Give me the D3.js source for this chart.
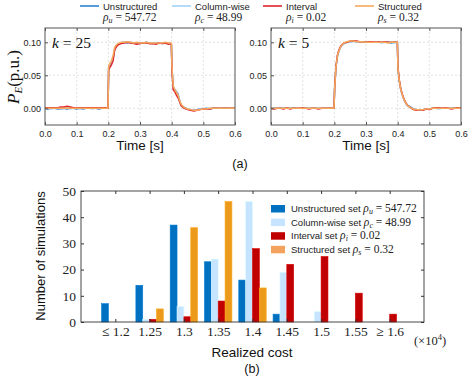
<!DOCTYPE html>
<html>
<head>
<meta charset="utf-8">
<script src="https://cdn.jsdelivr.net/npm/d3@7"></script>
<style>
  body { margin: 0; background: #fff; }
  svg { display: block; }
  .sans { font-family: "Liberation Sans", Arial, sans-serif; }
  .serif { font-family: "Liberation Serif", "DejaVu Serif", serif; }
</style>
</head>
<body>
<div id="chart"></div>
<script>
// ---- (a) time series, time in ms, power in 1e-3 p.u. ----
const timeMs = [0,10,20,30,40,50,60,70,80,90,100,110,120,130,140,150,160,170,180,190,
  199,201,205,210,215,220,225,230,
  240,250,260,270,280,290,300,310,320,330,340,350,360,370,380,390,
  399,401,405,410,415,420,425,430,
  440,450,460,470,480,490,500,510,520,530,540,550,560,570,580,590,600];

const k25Unstructured = [0,-1,0,0,-1,-1,0,-1,0,0,-1,0,-1,0,0,0,0,-1,0,0,
  0,62,66,70,76,90,95,97,
  99,100,99,100,99,98,99,99,100,99,98,99,99,98,99,98,
  97,60,32,28,25,22,12,5,
  1,-1,-2,-3,-2,-1,-1,0,-1,0,1,0,0,1,0,0,0];
const k25ColumnWise = [0,0,-1,0,0,-1,0,0,-1,0,0,-1,0,0,0,-1,0,0,0,0,
  0,60,65,69,75,89,94,97,
  99,99,100,99,99,99,98,99,99,98,99,99,98,99,98,99,
  98,58,30,27,24,21,11,4,
  0,-1,-3,-3,-2,-1,0,-1,0,0,0,1,0,0,0,1,0];
const k25Interval = [1,1,1,1,1,2,2,3,2,1,1,1,1,1,1,1,1,1,1,1,
  0,58,62,66,72,88,93,96,
  98,99,100,99,98,97,98,99,99,98,98,97,99,98,99,97,
  98,55,28,25,20,16,10,4,
  0,-2,-3,-4,-3,-2,-1,-1,-1,0,0,0,0,0,0,0,0];
const k25Structured = [0,0,0,0,0,0,0,0,0,0,0,0,0,0,0,0,0,0,0,0,
  0,64,68,72,80,92,96,98,
  100,100,101,100,99,100,99,99,100,99,99,99,99,99,100,99,
  99,62,34,28,24,20,12,6,
  1,-1,-2,-3,-3,-2,-1,-1,0,0,0,0,0,0,0,0,0];

const k5Unstructured = [0,1,0,1,0,0,0,1,0,0,0,0,0,0,0,0,0,0,0,0,
  0,30,62,80,88,93,96,98,
  100,101,102,101,101,101,100,100,101,100,100,100,100,100,99,100,
  100,60,42,28,20,13,9,5,
  2,-1,-2,-3,-2,-1,-1,0,0,0,0,0,0,0,0,0,0];
const k5ColumnWise = [0,0,1,0,0,1,0,0,0,1,0,0,0,0,1,0,0,0,0,0,
  0,28,60,79,87,92,96,98,
  100,101,101,101,100,101,100,100,100,100,100,99,100,100,100,99,
  100,58,40,27,19,12,8,4,
  1,-1,-2,-2,-2,-1,-1,0,0,-1,0,0,0,0,0,0,0];
const k5Interval = [0,-1,0,0,-1,1,-1,0,0,0,1,0,-1,0,0,-1,0,0,0,0,
  0,32,63,81,89,94,97,99,
  100,102,102,102,101,101,100,101,101,100,101,100,101,100,100,100,
  100,62,43,29,21,14,9,5,
  1,-2,-3,-2,-3,-1,-2,0,1,1,0,1,0,-1,0,1,0];
const k5Structured = [0,0,0,0,0,0,0,0,0,0,0,0,0,0,0,0,0,0,0,0,
  0,30,62,80,88,93,97,99,
  101,102,102,101,101,101,100,100,100,100,100,100,100,99,100,100,
  100,60,42,28,20,13,9,5,
  1,-1,-2,-2,-2,-1,-1,0,0,0,0,0,0,0,0,0,0];

const timeTicks = [0, 0.1, 0.2, 0.3, 0.4, 0.5, 0.6];
const powerTicks = [0, 0.05, 0.10];

// ---- (b) histogram ----
const costCategories = ["≤ 1.2", "1.25", "1.3", "1.35", "1.4", "1.45", "1.5", "1.55", "≥ 1.6"];
const countUnstructured = [7, 14, 37, 23, 16, 3, 0, 0, 0];
const countColumnWise   = [0, 1, 6, 24, 46, 19, 4, 0, 0];
const countInterval     = [0, 1, 2, 8, 28, 22, 25, 11, 3];
const countStructured   = [0, 5, 36, 46, 13, 0, 0, 0, 0];
const countTicks = [0, 10, 20, 30, 40, 50];

const setNames = ["Unstructured", "Column-wise", "Interval", "Structured"];
const rhoSub = ["u", "c", "i", "s"];
const rhoVal = ["547.72", "48.99", "0.02", "0.32"];

const lineColors = ["#2f83d4", "#a3d2f6", "#e0262b", "#f8a85c"];
const barColors = ["#0070c0", "#c6e4ff", "#c00000", "#ec9a1c"];
const legendBarColors = ["#0070c0", "#c6e4ff", "#c00000", "#f4a35e"];

const W = 469, H = 380;
const svg = d3.select("#chart").append("svg").attr("width", W).attr("height", H);

// ---------- top legend ----------
const legendX = [80, 172, 263, 355];
setNames.forEach((name, i) => {
  const g = svg.append("g");
  g.append("line").attr("x1", legendX[i]).attr("x2", legendX[i] + 19)
    .attr("y1", 6).attr("y2", 6).attr("stroke", lineColors[i]).attr("stroke-width", 1.6);
  g.append("text").attr("class", "sans").attr("x", legendX[i] + 23).attr("y", 9.5)
    .style("font-size", "9.5px").attr("fill", "#222").text(name);
  const t = g.append("text").attr("class", "serif").attr("x", legendX[i] + 23).attr("y", 21)
    .style("font-size", "11.5px").attr("fill", "#222");
  t.append("tspan").style("font-style", "italic").text("ρ");
  t.append("tspan").style("font-style", "italic").style("font-size", "8px").attr("dy", 2).text(rhoSub[i]);
  t.append("tspan").attr("dy", -2).text(" = " + rhoVal[i]);
});

// ---------- (a) panels ----------
function drawPanel(x0, x1, series, kLabel) {
  const x = d3.scaleLinear().domain([0, 0.6]).range([x0, x1]);
  const y = d3.scaleLinear().domain([-0.0253, 0.1217]).range([125, 28]);
  const g = svg.append("g");

  // grid
  g.selectAll(".gx").data(timeTicks.slice(1, -1)).enter().append("line")
    .attr("x1", d => x(d)).attr("x2", d => x(d)).attr("y1", 28).attr("y2", 125)
    .attr("stroke", "#d6d6d6").attr("stroke-width", 0.7).attr("stroke-dasharray", "2,2");
  g.selectAll(".gy").data(powerTicks).enter().append("line")
    .attr("x1", x0).attr("x2", x1).attr("y1", d => y(d)).attr("y2", d => y(d))
    .attr("stroke", "#d6d6d6").attr("stroke-width", 0.7).attr("stroke-dasharray", "2,2");

  // lines
  const line = d3.line().x((d, j) => x(timeMs[j] / 1000)).y(d => y(d / 1000));
  series.forEach((s, i) => {
    g.append("path").datum(s).attr("d", line).attr("fill", "none")
      .attr("stroke", lineColors[i]).attr("stroke-width", 1.5).attr("stroke-linejoin", "round");
  });

  // frame
  g.append("rect").attr("x", x0).attr("y", 28).attr("width", x1 - x0).attr("height", 97)
    .attr("fill", "none").attr("stroke", "#555").attr("stroke-width", 1);

  // ticks + labels
  const xAxis = d3.axisBottom(x).tickValues(timeTicks).tickFormat(d3.format(".1f")).tickSize(3).tickPadding(4);
  const ax = g.append("g").attr("transform", "translate(0,125)").call(xAxis);
  ax.select(".domain").remove();
  ax.selectAll(".tick line").attr("y2", -3).attr("stroke", "#555");
  ax.selectAll("text").attr("class", "sans").style("font-size", "9px").attr("fill", "#222").attr("y", 6);
  const axT = g.append("g").attr("transform", "translate(0,28)").call(d3.axisTop(x).tickValues(timeTicks).tickSize(0));
  axT.select(".domain").remove();
  axT.selectAll("text").remove();
  axT.selectAll(".tick").append("line").attr("y2", 3).attr("stroke", "#555");

  const yAxis = d3.axisLeft(y).tickValues(powerTicks).tickFormat(d3.format(".2f")).tickSize(3).tickPadding(4);
  const ay = g.append("g").attr("transform", `translate(${x0},0)`).call(yAxis);
  ay.select(".domain").remove();
  ay.selectAll(".tick line").attr("x2", 3).attr("x1", 0).attr("stroke", "#555");
  ay.selectAll("text").attr("class", "sans").style("font-size", "9px").attr("fill", "#222").attr("x", -4);

  g.append("text").attr("class", "serif").attr("x", x0 + 7).attr("y", 48)
    .style("font-size", "15.5px").attr("fill", "#111")
    .call(t => {
      t.append("tspan").style("font-style", "italic").text("k");
      t.append("tspan").text(" = " + kLabel);
    });

  g.append("text").attr("class", "sans").attr("x", (x0 + x1) / 2).attr("y", 150)
    .attr("text-anchor", "middle").style("font-size", "13.5px").attr("fill", "#111").text("Time [s]");
}

drawPanel(45, 235, [k25Unstructured, k25ColumnWise, k25Interval, k25Structured], "25");
drawPanel(271, 461, [k5Unstructured, k5ColumnWise, k5Interval, k5Structured], "5");

// y label (a)
svg.append("text").attr("class", "serif").attr("transform", "translate(19,77) rotate(-90)")
  .attr("text-anchor", "middle").style("font-size", "17px").attr("fill", "#111")
  .call(t => {
    t.append("tspan").style("font-style", "italic").text("P");
    t.append("tspan").style("font-style", "italic").style("font-size", "11px").attr("dy", 3).text("E");
    t.append("tspan").attr("dy", -3).text("(p.u.)");
  });

svg.append("text").attr("class", "sans").attr("x", 240).attr("y", 168)
  .attr("text-anchor", "middle").style("font-size", "12.5px").attr("fill", "#111").text("(a)");

// ---------- (b) histogram ----------
const bx = d3.scaleLinear().domain([0, 10]).range([81, 424]);
const by = d3.scaleLinear().domain([0, 50]).range([322, 191]);
const bw = (bx(1) - bx(0)) * 0.2;
const gb = svg.append("g");

const counts = [countUnstructured, countColumnWise, countInterval, countStructured];
counts.forEach((arr, s) => {
  gb.selectAll(".bar" + s).data(arr).enter().append("rect")
    .attr("x", (d, i) => bx(i + 1) + (s - 2) * bw)
    .attr("width", bw)
    .attr("y", d => by(d))
    .attr("height", d => by(0) - by(d))
    .attr("fill", barColors[s])
    .attr("stroke", d3.color(barColors[s]).brighter(0.3))
    .attr("stroke-width", 0.6);
});

// frame
gb.append("rect").attr("x", 81).attr("y", 191).attr("width", 343).attr("height", 131)
  .attr("fill", "none").attr("stroke", "#333").attr("stroke-width", 0.9);

// y axis
const byAxis = d3.axisLeft(by).tickValues(countTicks).tickSize(0).tickPadding(5);
const bay = gb.append("g").attr("transform", "translate(81,0)").call(byAxis);
bay.select(".domain").remove();
bay.selectAll("text").attr("class", "serif").style("font-size", "13.5px").attr("fill", "#222");
bay.selectAll(".tick").append("line").attr("x2", 3).attr("stroke", "#333");
const bayR = gb.append("g").attr("transform", "translate(424,0)").call(d3.axisRight(by).tickValues(countTicks).tickSize(0));
bayR.select(".domain").remove();
bayR.selectAll("text").remove();
bayR.selectAll(".tick").append("line").attr("x2", -3).attr("stroke", "#333");

// x axis
const catIdx = costCategories.map((c, i) => i + 1);
const bax = gb.append("g").attr("transform", "translate(0,322)")
  .call(d3.axisBottom(bx).tickValues(catIdx).tickFormat(i => costCategories[i - 1]).tickSize(0).tickPadding(4));
bax.select(".domain").remove();
bax.selectAll("text").attr("class", "serif").style("font-size", "13.5px").attr("fill", "#222");
bax.selectAll(".tick").append("line").attr("y2", -3).attr("stroke", "#333");
const baxT = gb.append("g").attr("transform", "translate(0,191)")
  .call(d3.axisTop(bx).tickValues(catIdx).tickSize(0));
baxT.select(".domain").remove();
baxT.selectAll("text").remove();
baxT.selectAll(".tick").append("line").attr("y2", 3).attr("stroke", "#333");

gb.append("text").attr("class", "serif").attr("x", 430).attr("y", 345)
  .attr("text-anchor", "middle").style("font-size", "12.5px").attr("fill", "#222")
  .call(t => {
    t.append("tspan").text("(×10");
    t.append("tspan").style("font-size", "8.5px").attr("dy", -5).text("4");
    t.append("tspan").attr("dy", 5).text(")");
  });

gb.append("text").attr("class", "sans").attr("x", 252).attr("y", 357)
  .attr("text-anchor", "middle").style("font-size", "13.5px").attr("fill", "#111").text("Realized cost");
gb.append("text").attr("class", "sans").attr("x", 252).attr("y", 373)
  .attr("text-anchor", "middle").style("font-size", "12.5px").attr("fill", "#111").text("(b)");

gb.append("text").attr("class", "sans").attr("transform", "translate(45,256) rotate(-90)")
  .attr("text-anchor", "middle").style("font-size", "13px").attr("fill", "#111").text("Number of simulations");

// legend (b)
const legSet = ["Unstructured set ", "Column-wise set ", "Interval set ", "Structured set "];
legSet.forEach((name, i) => {
  const yy = 205 + i * 13.6;
  gb.append("rect").attr("x", 271).attr("y", yy).attr("width", 14).attr("height", 7.5)
    .attr("fill", legendBarColors[i]);
  const t = gb.append("text").attr("x", 291).attr("y", yy + 7).attr("fill", "#222");
  t.append("tspan").attr("class", "sans").style("font-size", "9.5px").text(name);
  t.append("tspan").attr("class", "serif").style("font-style", "italic").style("font-size", "11.5px").text("ρ");
  t.append("tspan").attr("class", "serif").style("font-style", "italic").style("font-size", "8px").attr("dy", 2).text(rhoSub[i]);
  t.append("tspan").attr("class", "serif").style("font-size", "11.5px").attr("dy", -2).text(" = " + rhoVal[i]);
});
</script>
</body>
</html>
